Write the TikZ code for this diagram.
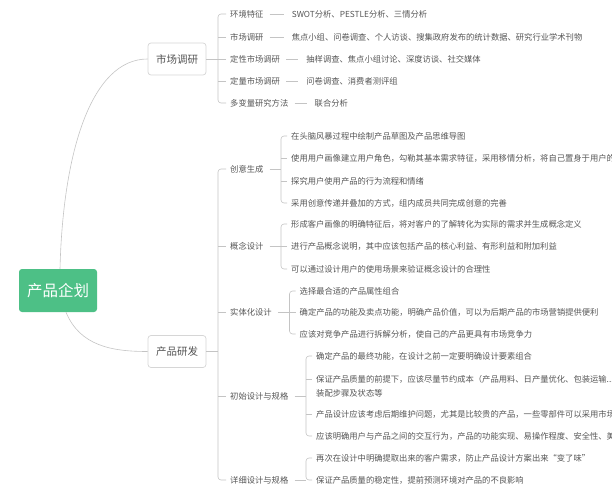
\documentclass[tikz,border=0pt]{standalone}
\usepackage{fontspec}
\newfontfamily\cjk{Noto Sans CJK SC}
\definecolor{rootg}{HTML}{4DC086}
\definecolor{linec}{HTML}{C4C4C4}
\definecolor{txt}{HTML}{555555}
\definecolor{boxb}{HTML}{D6D6D6}
\begin{document}
\begin{tikzpicture}[x=1pt,y=-1pt,
  conn/.style={draw=linec, line width=0.6pt},
  leaf/.style={anchor=west, inner sep=0pt, text=txt, font=\cjk\fontsize{8.3}{10}\selectfont},
  rootbox/.style={fill=rootg, rounded corners=3pt, text=white, minimum width=78pt, minimum height=43pt, inner sep=0pt, font=\cjk\fontsize{15.5}{18}\selectfont},
  branchbox/.style={draw=boxb, line width=0.7pt, fill=white, rounded corners=3pt, text=txt, minimum width=58pt, minimum height=32pt, inner sep=0pt, font=\cjk\fontsize{10.5}{12}\selectfont}]
\useasboundingbox (0,0) rectangle (612,486);
\clip (0,0) rectangle (612,486);

% root and branches
\node[rootbox] (root) at (58,290.5) {产品企划};
\node[branchbox] (mr) at (177,59) {市场调研};
\node[branchbox] (rd) at (177,351.5) {产品研发};
\draw[conn] ([xshift=2pt]root.north) .. controls (63,150) and (92,59) .. (mr.west);
\draw[conn] ([xshift=8pt]root.south) .. controls (80,346) and (112,351.5) .. (rd.west);

% market research
\node[leaf] (m1) at (230,14) {环境特征};
\node[leaf] (m2) at (230,37) {市场调研};
\node[leaf] (m3) at (230,59) {定性市场调研};
\node[leaf] (m4) at (230,81) {定量市场调研};
\node[leaf] (m5) at (230,103) {多变量研究方法};
\draw[conn] (mr.east) -- ([xshift=-12pt]m3.west);
\draw[conn,rounded corners=3pt] ([xshift=-4pt]m1.west) -- ++(-8,0) |- ([xshift=-4pt]m5.west);
\foreach \n in {m2,m3,m4} \draw[conn] ([xshift=-4pt]\n.west) -- ++(-8,0);
\node[leaf] (g1) at ([xshift=28pt]m1.east) {SWOT分析、PESTLE分析、三情分析};
\node[leaf] (g2) at ([xshift=28pt]m2.east) {焦点小组、问卷调查、个人访谈、搜集政府发布的统计数据、研究行业学术刊物};
\node[leaf] (g3) at ([xshift=26pt]m3.east) {抽样调查、焦点小组讨论、深度访谈、社交媒体};
\node[leaf] (g4) at ([xshift=26pt]m4.east) {问卷调查、消费者测评组};
\node[leaf] (g5) at ([xshift=26pt]m5.east) {联合分析};
\foreach \a/\b in {m1/g1,m2/g2,m3/g3,m4/g4,m5/g5}
  \draw[conn] ([xshift=6pt]\a.east) -- ([xshift=-8pt]\b.west);

% product development
\node[leaf] (d1) at (230,169) {创意生成};
\node[leaf] (d2) at (230,246) {概念设计};
\node[leaf] (d3) at (230,312) {实体化设计};
\node[leaf] (d4) at (230,396) {初始设计与规格};
\node[leaf] (d5) at (230,480) {详细设计与规格};
\draw[conn] (rd.east) -- (218,351.5);
\draw[conn,rounded corners=3pt] ([xshift=-4pt]d1.west) -- ++(-8,0) |- ([xshift=-4pt]d5.west);
\foreach \n in {d2,d3,d4} \draw[conn] ([xshift=-4pt]\n.west) -- ++(-8,0);

% creative generation
\node[leaf] (c1) at (291,136) {在头脑风暴过程中绘制产品草图及产品思维导图};
\node[leaf] (c2) at (291,158) {使用用户画像建立用户角色，勾勒其基本需求特征，采用移情分析，将自己置身于用户的};
\node[leaf] (c3) at (291,181) {探究用户使用产品的行为流程和情绪};
\node[leaf] (c4) at (291,203) {采用创意传递并叠加的方式，组内成员共同完成创意的完善};
\draw[conn] ([xshift=6pt]d1.east) -- (281,169);
\draw[conn,rounded corners=3pt] ([xshift=-4pt]c1.west) -- (281,136) |- ([xshift=-4pt]c4.west);
\foreach \n in {c2,c3} \draw[conn] ([xshift=-4pt]\n.west) -- (281,0 |- \n.west);

% concept design
\node[leaf] (k1) at (291,224) {形成客户画像的明确特征后，将对客户的了解转化为实际的需求并生成概念定义};
\node[leaf] (k2) at (291,246) {进行产品概念说明，其中应该包括产品的核心利益、有形利益和附加利益};
\node[leaf] (k3) at (291,269) {可以通过设计用户的使用场景来验证概念设计的合理性};
\draw[conn] ([xshift=6pt]d2.east) -- (281,246);
\draw[conn,rounded corners=3pt] ([xshift=-4pt]k1.west) -- (281,224) |- ([xshift=-4pt]k3.west);
\draw[conn] ([xshift=-4pt]k2.west) -- (281,246);

% embodiment design
\node[leaf] (e1) at (299.5,291) {选择最合适的产品属性组合};
\node[leaf] (e2) at (299.5,312) {确定产品的功能及卖点功能，明确产品价值，可以为后期产品的市场营销提供便利};
\node[leaf] (e3) at (299.5,334) {应该对竞争产品进行拆解分析，使自己的产品更具有市场竞争力};
\draw[conn] ([xshift=6pt]d3.east) -- (289.5,312);
\draw[conn,rounded corners=3pt] ([xshift=-4pt]e1.west) -- (289.5,291) |- ([xshift=-4pt]e3.west);
\draw[conn] ([xshift=-4pt]e2.west) -- (289.5,312);

% initial design and specification
\node[leaf] (i1) at (316,356) {确定产品的最终功能，在设计之前一定要明确设计要素组合};
\node[leaf] (i2) at (316,379) {保证产品质量的前提下，应该尽量节约成本（产品用料、日产量优化、包装运输...};
\node[leaf] (i2b) at (316,393) {装配步骤及状态等};
\node[leaf] (i3) at (316,414) {产品设计应该考虑后期维护问题，尤其是比较贵的产品，一些零部件可以采用市场};
\node[leaf] (i4) at (316,436) {应该明确用户与产品之间的交互行为，产品的功能实现、易操作程度、安全性、美};
\draw[conn] ([xshift=6pt]d4.east) -- (306,396);
\draw[conn,rounded corners=3pt] ([xshift=-4pt]i1.west) -- (306,356) |- ([xshift=-4pt]i4.west);
\foreach \n in {i2,i3} \draw[conn] ([xshift=-4pt]\n.west) -- (306,0 |- \n.west);

% detailed design and specification
\node[leaf] (t1) at (316,458) {再次在设计中明确提取出来的客户需求，防止产品设计方案出来“变了味”};
\node[leaf] (t2) at (316,480) {保证产品质量的稳定性，提前预测环境对产品的不良影响};
\draw[conn] ([xshift=6pt]d5.east) -- (306,480);
\draw[conn,rounded corners=3pt] ([xshift=-4pt]t1.west) -- (306,458) |- ([xshift=-4pt]t2.west);
\end{tikzpicture}
\end{document}
